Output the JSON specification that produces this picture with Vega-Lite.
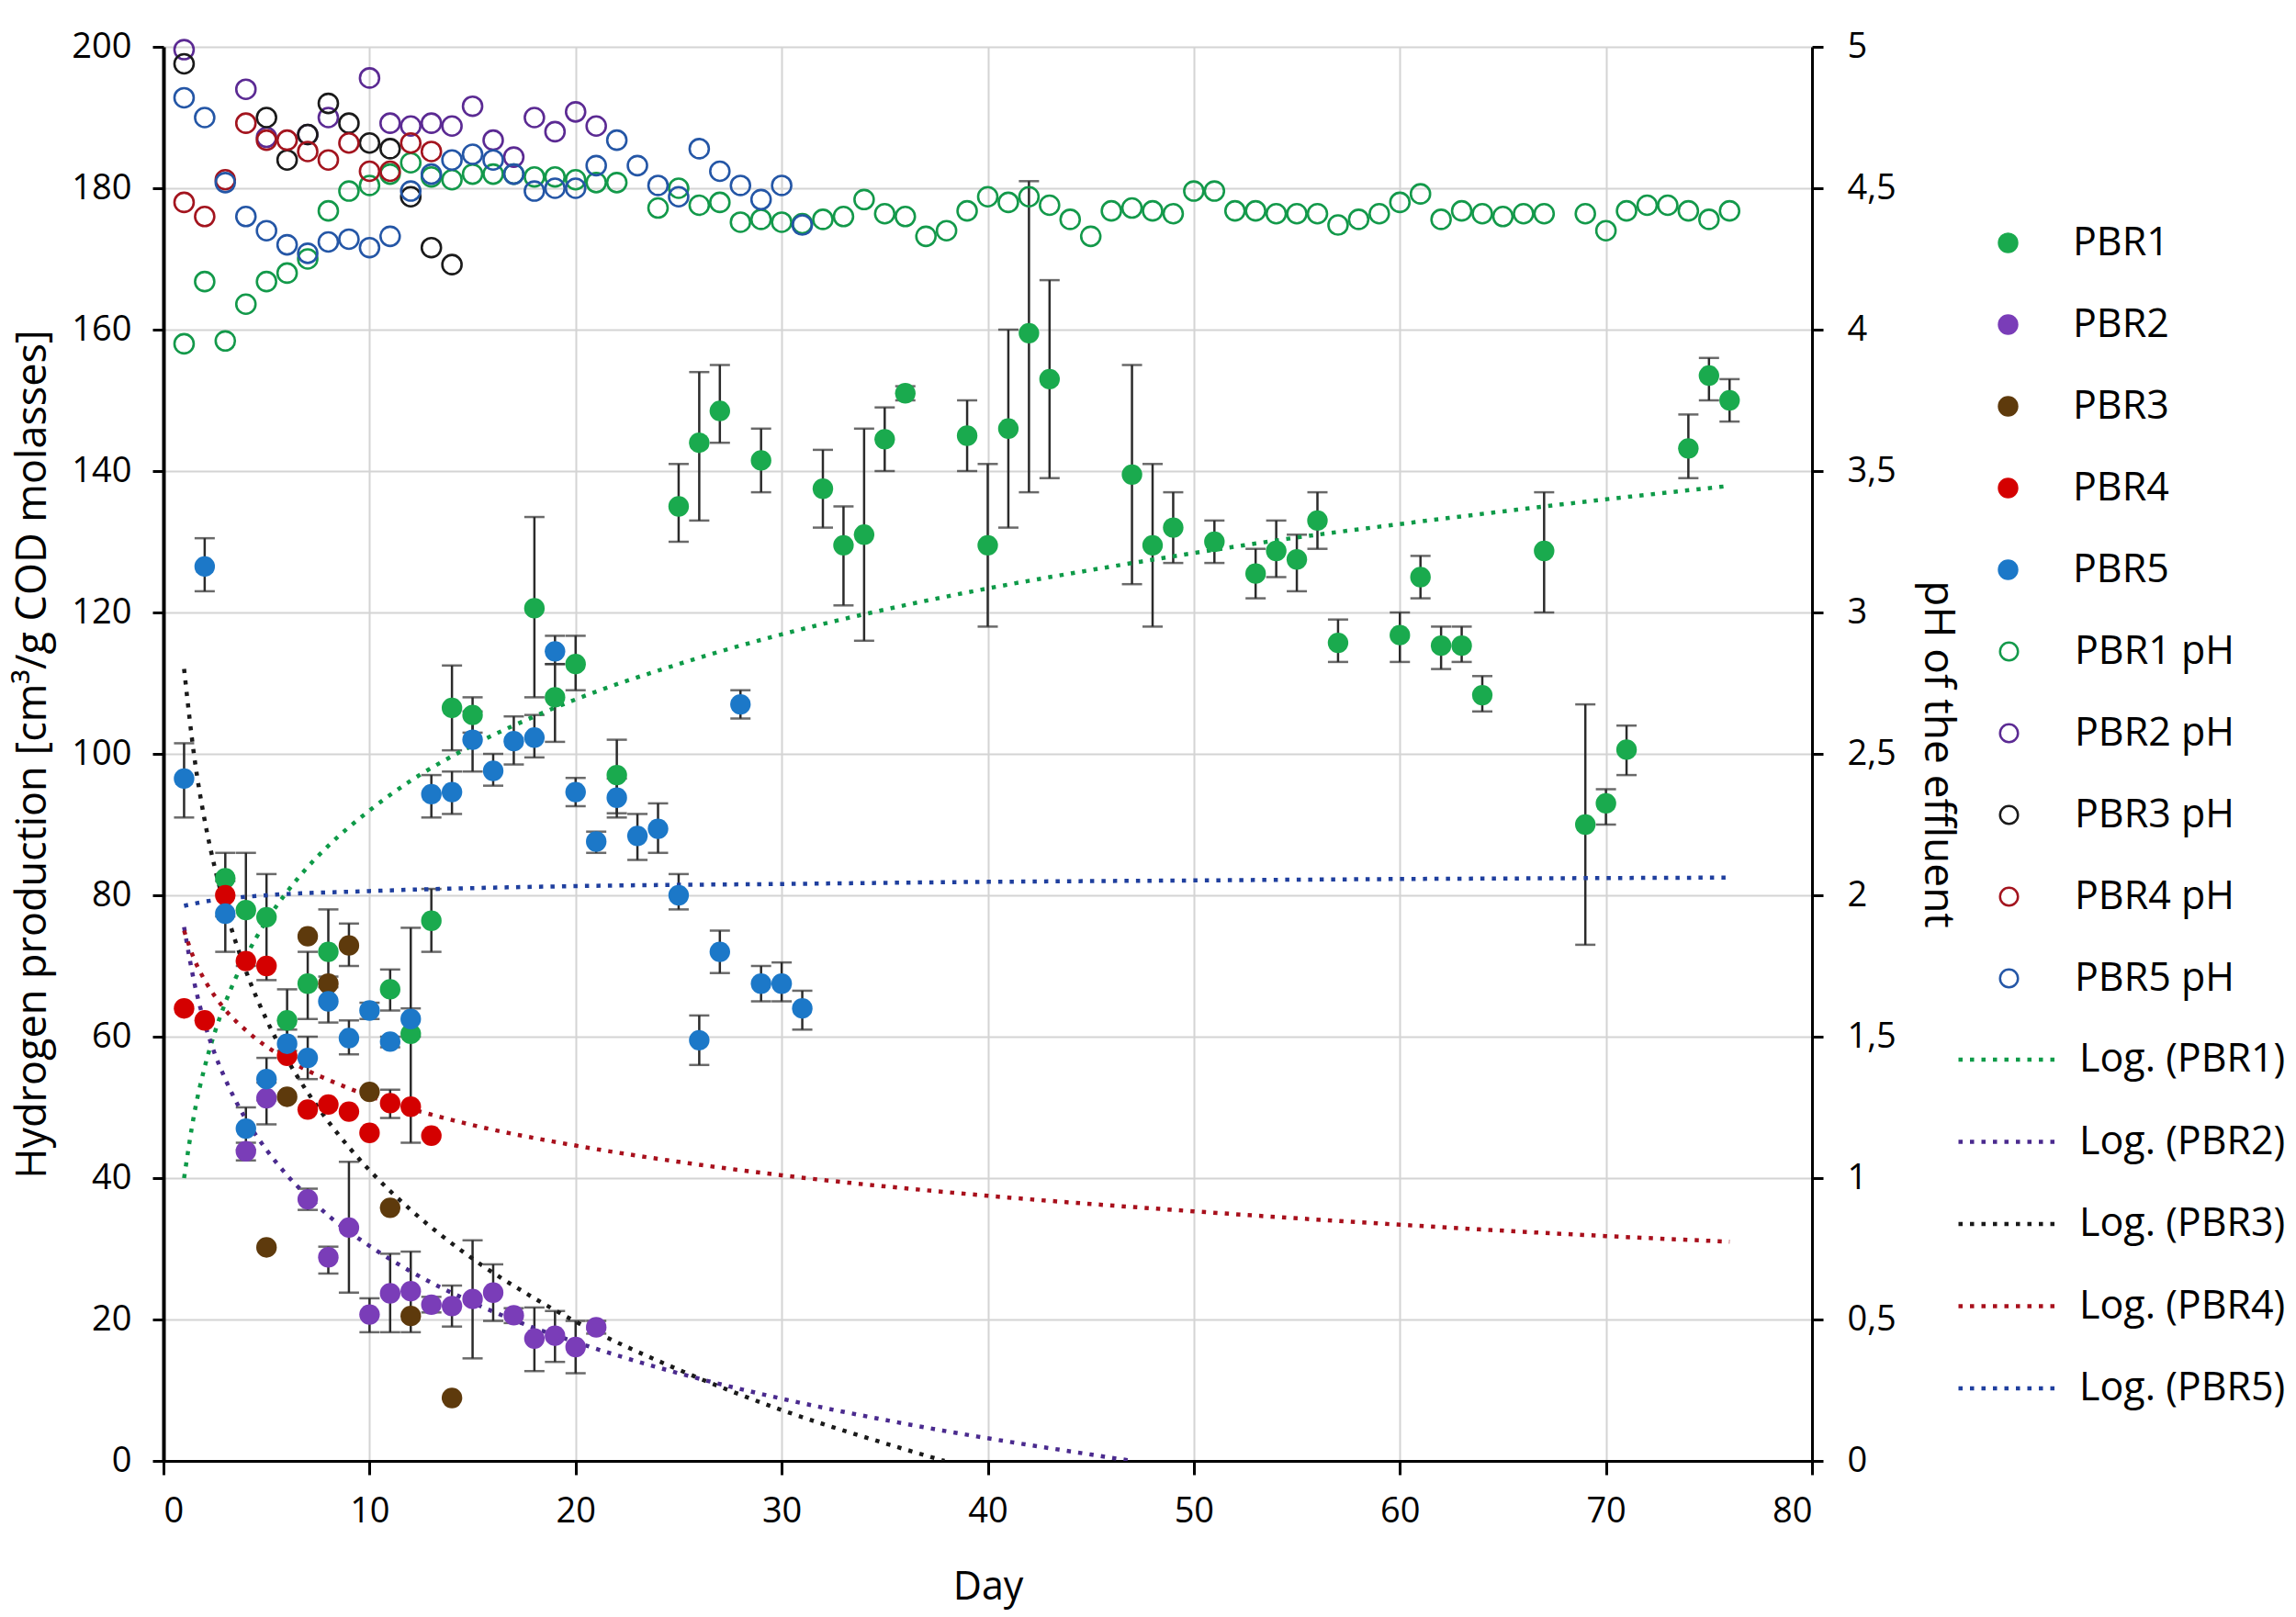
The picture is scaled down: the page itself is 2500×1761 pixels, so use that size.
{
  "$schema": "https://vega.github.io/schema/vega-lite/v6.json",
  "width": 1795,
  "height": 1540,
  "autosize": {"type": "none"},
  "padding": {"left": 178, "top": 51, "right": 527, "bottom": 170},
  "background": "white",
  "config": {
    "font": "Open Sans",
    "view": {"stroke": null},
    "axis": {"labelFont": "Open Sans", "titleFont": "Open Sans", "labelColor": "#000", "titleColor": "#000", "labelFontSize": 38, "titleFontSize": 46, "titleFontWeight": "normal", "domainColor": "#000", "domainWidth": 3, "tickColor": "#000", "tickWidth": 3, "tickSize": 13, "gridColor": "#d4d4d4", "gridWidth": 2},
    "legend": {"labelFont": "Open Sans", "labelFontSize": 43, "labelColor": "#000", "padding": 0, "labelLimit": 500}
  },
  "datasets": {
    "h2": [
      {"s":"PBR1","d":3,"v":82.4,"lo":77,"hi":86},
      {"s":"PBR1","d":4,"v":77.9,"lo":70,"hi":86},
      {"s":"PBR1","d":5,"v":76.9,"lo":68,"hi":83},
      {"s":"PBR1","d":6,"v":62.3,"lo":58,"hi":66.7},
      {"s":"PBR1","d":7,"v":67.5,"lo":62.5,"hi":72},
      {"s":"PBR1","d":8,"v":72,"lo":67,"hi":78},
      {"s":"PBR1","d":11,"v":66.7,"lo":63.7,"hi":69.5},
      {"s":"PBR1","d":12,"v":60.4,"lo":45,"hi":75.4},
      {"s":"PBR1","d":13,"v":76.4,"lo":72,"hi":80.9},
      {"s":"PBR1","d":14,"v":106.5,"lo":100.5,"hi":112.5},
      {"s":"PBR1","d":15,"v":105.5,"lo":103,"hi":108},
      {"s":"PBR1","d":18,"v":120.6,"lo":108,"hi":133.5},
      {"s":"PBR1","d":19,"v":108,"lo":101.7,"hi":112.7},
      {"s":"PBR1","d":20,"v":112.7,"lo":109,"hi":116.7},
      {"s":"PBR1","d":22,"v":97,"lo":91.6,"hi":102},
      {"s":"PBR1","d":25,"v":135,"lo":130,"hi":141},
      {"s":"PBR1","d":26,"v":144,"lo":133,"hi":154},
      {"s":"PBR1","d":27,"v":148.5,"lo":144,"hi":155},
      {"s":"PBR1","d":29,"v":141.5,"lo":137,"hi":146},
      {"s":"PBR1","d":32,"v":137.5,"lo":132,"hi":143},
      {"s":"PBR1","d":33,"v":129.5,"lo":121,"hi":135},
      {"s":"PBR1","d":34,"v":131,"lo":116,"hi":146},
      {"s":"PBR1","d":35,"v":144.5,"lo":140,"hi":149},
      {"s":"PBR1","d":36,"v":151,"lo":150,"hi":152},
      {"s":"PBR1","d":39,"v":145,"lo":140,"hi":150},
      {"s":"PBR1","d":40,"v":129.5,"lo":118,"hi":141},
      {"s":"PBR1","d":41,"v":146,"lo":132,"hi":160},
      {"s":"PBR1","d":42,"v":159.5,"lo":137,"hi":181},
      {"s":"PBR1","d":43,"v":153,"lo":139,"hi":167},
      {"s":"PBR1","d":47,"v":139.5,"lo":124,"hi":155},
      {"s":"PBR1","d":48,"v":129.5,"lo":118,"hi":141},
      {"s":"PBR1","d":49,"v":132,"lo":127,"hi":137},
      {"s":"PBR1","d":51,"v":130,"lo":127,"hi":133},
      {"s":"PBR1","d":53,"v":125.5,"lo":122,"hi":129},
      {"s":"PBR1","d":54,"v":128.7,"lo":125,"hi":133},
      {"s":"PBR1","d":55,"v":127.5,"lo":123,"hi":131},
      {"s":"PBR1","d":56,"v":133,"lo":129,"hi":137},
      {"s":"PBR1","d":57,"v":115.7,"lo":113,"hi":119},
      {"s":"PBR1","d":60,"v":116.8,"lo":113,"hi":120},
      {"s":"PBR1","d":61,"v":125,"lo":122,"hi":128},
      {"s":"PBR1","d":62,"v":115.3,"lo":112,"hi":118},
      {"s":"PBR1","d":63,"v":115.3,"lo":113,"hi":118},
      {"s":"PBR1","d":64,"v":108.3,"lo":106,"hi":111},
      {"s":"PBR1","d":67,"v":128.7,"lo":120,"hi":137},
      {"s":"PBR1","d":69,"v":90,"lo":73,"hi":107},
      {"s":"PBR1","d":70,"v":93,"lo":90,"hi":95},
      {"s":"PBR1","d":71,"v":100.6,"lo":97,"hi":104},
      {"s":"PBR1","d":74,"v":143.2,"lo":139,"hi":148},
      {"s":"PBR1","d":75,"v":153.5,"lo":150,"hi":156},
      {"s":"PBR1","d":76,"v":150,"lo":147,"hi":153},
      {"s":"PBR2","d":4,"v":43.8,"lo":42.5,"hi":45},
      {"s":"PBR2","d":5,"v":51.3,"lo":47.6,"hi":53.5},
      {"s":"PBR2","d":7,"v":37,"lo":35.5,"hi":38.5},
      {"s":"PBR2","d":8,"v":28.8,"lo":26.5,"hi":30.3},
      {"s":"PBR2","d":9,"v":33,"lo":23.8,"hi":42.3},
      {"s":"PBR2","d":10,"v":20.7,"lo":18.2,"hi":23},
      {"s":"PBR2","d":11,"v":23.7,"lo":18.2,"hi":29.3},
      {"s":"PBR2","d":12,"v":24,"lo":18.2,"hi":29.6},
      {"s":"PBR2","d":13,"v":22.1,"lo":21,"hi":23.2},
      {"s":"PBR2","d":14,"v":21.9,"lo":19,"hi":24.8},
      {"s":"PBR2","d":15,"v":22.9,"lo":14.5,"hi":31.2},
      {"s":"PBR2","d":16,"v":23.8,"lo":19.8,"hi":27.8},
      {"s":"PBR2","d":17,"v":20.6,"lo":19.5,"hi":21.6},
      {"s":"PBR2","d":18,"v":17.3,"lo":12.7,"hi":21.7},
      {"s":"PBR2","d":19,"v":17.7,"lo":14,"hi":21.2},
      {"s":"PBR2","d":20,"v":16.1,"lo":12.4,"hi":19.8},
      {"s":"PBR2","d":21,"v":18.9,"lo":18,"hi":19.8},
      {"s":"PBR3","d":5,"v":30.2},
      {"s":"PBR3","d":6,"v":51.5},
      {"s":"PBR3","d":7,"v":74.2},
      {"s":"PBR3","d":8,"v":67.5},
      {"s":"PBR3","d":9,"v":72.9,"lo":70,"hi":76},
      {"s":"PBR3","d":10,"v":52.2},
      {"s":"PBR3","d":11,"v":35.8},
      {"s":"PBR3","d":12,"v":20.5},
      {"s":"PBR3","d":14,"v":8.9},
      {"s":"PBR4","d":1,"v":64},
      {"s":"PBR4","d":2,"v":62.3},
      {"s":"PBR4","d":3,"v":80},
      {"s":"PBR4","d":4,"v":70.7},
      {"s":"PBR4","d":5,"v":70},
      {"s":"PBR4","d":6,"v":57.3},
      {"s":"PBR4","d":7,"v":49.7},
      {"s":"PBR4","d":8,"v":50.4},
      {"s":"PBR4","d":9,"v":49.4},
      {"s":"PBR4","d":10,"v":46.4},
      {"s":"PBR4","d":11,"v":50.6,"lo":48.5,"hi":52.5},
      {"s":"PBR4","d":12,"v":50.1},
      {"s":"PBR4","d":13,"v":46},
      {"s":"PBR5","d":1,"v":96.5,"lo":91,"hi":101.5},
      {"s":"PBR5","d":2,"v":126.5,"lo":123,"hi":130.5},
      {"s":"PBR5","d":3,"v":77.4,"lo":72,"hi":82},
      {"s":"PBR5","d":4,"v":47,"lo":44,"hi":50},
      {"s":"PBR5","d":5,"v":54,"lo":51,"hi":57},
      {"s":"PBR5","d":6,"v":59,"lo":57,"hi":61},
      {"s":"PBR5","d":7,"v":57,"lo":54,"hi":60},
      {"s":"PBR5","d":8,"v":65,"lo":62,"hi":68.5},
      {"s":"PBR5","d":9,"v":59.8,"lo":57.5,"hi":62.3},
      {"s":"PBR5","d":10,"v":63.7,"lo":62.5,"hi":64.8},
      {"s":"PBR5","d":11,"v":59.3,"lo":58.5,"hi":60},
      {"s":"PBR5","d":12,"v":62.5,"lo":60,"hi":64},
      {"s":"PBR5","d":13,"v":94.3,"lo":91,"hi":97},
      {"s":"PBR5","d":14,"v":94.6,"lo":91.5,"hi":97.5},
      {"s":"PBR5","d":15,"v":102,"lo":97.5,"hi":106},
      {"s":"PBR5","d":16,"v":97.6,"lo":95.5,"hi":100},
      {"s":"PBR5","d":17,"v":101.8,"lo":98.5,"hi":105.3},
      {"s":"PBR5","d":18,"v":102.3,"lo":99.5,"hi":105.5},
      {"s":"PBR5","d":19,"v":114.5,"lo":112.7,"hi":116.7},
      {"s":"PBR5","d":20,"v":94.6,"lo":92.6,"hi":96.6},
      {"s":"PBR5","d":21,"v":87.6,"lo":86,"hi":89},
      {"s":"PBR5","d":22,"v":93.8,"lo":91,"hi":96.5},
      {"s":"PBR5","d":23,"v":88.4,"lo":85,"hi":91.5},
      {"s":"PBR5","d":24,"v":89.4,"lo":86,"hi":93},
      {"s":"PBR5","d":25,"v":80,"lo":78,"hi":83},
      {"s":"PBR5","d":26,"v":59.5,"lo":56,"hi":63},
      {"s":"PBR5","d":27,"v":72,"lo":69,"hi":75},
      {"s":"PBR5","d":28,"v":107,"lo":105,"hi":109},
      {"s":"PBR5","d":29,"v":67.5,"lo":65,"hi":70},
      {"s":"PBR5","d":30,"v":67.5,"lo":65,"hi":70.5},
      {"s":"PBR5","d":31,"v":64,"lo":61,"hi":66.5}
    ],
    "ph": [
      {"s":"PBR1 pH","d":1,"ph":3.95},{"s":"PBR1 pH","d":2,"ph":4.17},{"s":"PBR1 pH","d":3,"ph":3.96},{"s":"PBR1 pH","d":4,"ph":4.09},
      {"s":"PBR1 pH","d":5,"ph":4.17},{"s":"PBR1 pH","d":6,"ph":4.2},{"s":"PBR1 pH","d":7,"ph":4.25},{"s":"PBR1 pH","d":8,"ph":4.42},
      {"s":"PBR1 pH","d":9,"ph":4.49},{"s":"PBR1 pH","d":10,"ph":4.51},{"s":"PBR1 pH","d":11,"ph":4.55},{"s":"PBR1 pH","d":12,"ph":4.59},
      {"s":"PBR1 pH","d":13,"ph":4.54},{"s":"PBR1 pH","d":14,"ph":4.53},{"s":"PBR1 pH","d":15,"ph":4.55},{"s":"PBR1 pH","d":16,"ph":4.55},
      {"s":"PBR1 pH","d":17,"ph":4.55},{"s":"PBR1 pH","d":18,"ph":4.54},{"s":"PBR1 pH","d":19,"ph":4.54},{"s":"PBR1 pH","d":20,"ph":4.53},
      {"s":"PBR1 pH","d":21,"ph":4.52},{"s":"PBR1 pH","d":22,"ph":4.52},{"s":"PBR1 pH","d":24,"ph":4.43},{"s":"PBR1 pH","d":25,"ph":4.5},
      {"s":"PBR1 pH","d":26,"ph":4.44},{"s":"PBR1 pH","d":27,"ph":4.45},{"s":"PBR1 pH","d":28,"ph":4.38},{"s":"PBR1 pH","d":29,"ph":4.39},
      {"s":"PBR1 pH","d":30,"ph":4.38},{"s":"PBR1 pH","d":31,"ph":4.375},{"s":"PBR1 pH","d":32,"ph":4.39},{"s":"PBR1 pH","d":33,"ph":4.4},
      {"s":"PBR1 pH","d":34,"ph":4.46},{"s":"PBR1 pH","d":35,"ph":4.41},{"s":"PBR1 pH","d":36,"ph":4.4},{"s":"PBR1 pH","d":37,"ph":4.33},
      {"s":"PBR1 pH","d":38,"ph":4.35},{"s":"PBR1 pH","d":39,"ph":4.42},{"s":"PBR1 pH","d":40,"ph":4.47},{"s":"PBR1 pH","d":41,"ph":4.45},
      {"s":"PBR1 pH","d":42,"ph":4.47},{"s":"PBR1 pH","d":43,"ph":4.44},{"s":"PBR1 pH","d":44,"ph":4.39},{"s":"PBR1 pH","d":45,"ph":4.33},
      {"s":"PBR1 pH","d":46,"ph":4.42},{"s":"PBR1 pH","d":47,"ph":4.43},{"s":"PBR1 pH","d":48,"ph":4.42},{"s":"PBR1 pH","d":49,"ph":4.41},
      {"s":"PBR1 pH","d":50,"ph":4.49},{"s":"PBR1 pH","d":51,"ph":4.49},{"s":"PBR1 pH","d":52,"ph":4.42},{"s":"PBR1 pH","d":53,"ph":4.42},
      {"s":"PBR1 pH","d":54,"ph":4.41},{"s":"PBR1 pH","d":55,"ph":4.41},{"s":"PBR1 pH","d":56,"ph":4.41},{"s":"PBR1 pH","d":57,"ph":4.37},
      {"s":"PBR1 pH","d":58,"ph":4.39},{"s":"PBR1 pH","d":59,"ph":4.41},{"s":"PBR1 pH","d":60,"ph":4.45},{"s":"PBR1 pH","d":61,"ph":4.48},
      {"s":"PBR1 pH","d":62,"ph":4.39},{"s":"PBR1 pH","d":63,"ph":4.42},{"s":"PBR1 pH","d":64,"ph":4.41},{"s":"PBR1 pH","d":65,"ph":4.4},
      {"s":"PBR1 pH","d":66,"ph":4.41},{"s":"PBR1 pH","d":67,"ph":4.41},{"s":"PBR1 pH","d":69,"ph":4.41},{"s":"PBR1 pH","d":70,"ph":4.35},
      {"s":"PBR1 pH","d":71,"ph":4.42},{"s":"PBR1 pH","d":72,"ph":4.44},{"s":"PBR1 pH","d":73,"ph":4.44},{"s":"PBR1 pH","d":74,"ph":4.42},
      {"s":"PBR1 pH","d":75,"ph":4.39},{"s":"PBR1 pH","d":76,"ph":4.42},
      {"s":"PBR2 pH","d":1,"ph":4.99},{"s":"PBR2 pH","d":4,"ph":4.85},{"s":"PBR2 pH","d":5,"ph":4.68},{"s":"PBR2 pH","d":7,"ph":4.69},
      {"s":"PBR2 pH","d":8,"ph":4.75},{"s":"PBR2 pH","d":10,"ph":4.89},{"s":"PBR2 pH","d":11,"ph":4.73},{"s":"PBR2 pH","d":12,"ph":4.72},
      {"s":"PBR2 pH","d":13,"ph":4.73},{"s":"PBR2 pH","d":14,"ph":4.72},{"s":"PBR2 pH","d":15,"ph":4.79},{"s":"PBR2 pH","d":16,"ph":4.67},
      {"s":"PBR2 pH","d":17,"ph":4.61},{"s":"PBR2 pH","d":18,"ph":4.75},{"s":"PBR2 pH","d":19,"ph":4.7},{"s":"PBR2 pH","d":20,"ph":4.77},
      {"s":"PBR2 pH","d":21,"ph":4.72},
      {"s":"PBR3 pH","d":1,"ph":4.94},{"s":"PBR3 pH","d":5,"ph":4.75},{"s":"PBR3 pH","d":6,"ph":4.6},{"s":"PBR3 pH","d":7,"ph":4.69},
      {"s":"PBR3 pH","d":8,"ph":4.8},{"s":"PBR3 pH","d":9,"ph":4.73},{"s":"PBR3 pH","d":10,"ph":4.66},{"s":"PBR3 pH","d":11,"ph":4.64},
      {"s":"PBR3 pH","d":12,"ph":4.47},{"s":"PBR3 pH","d":13,"ph":4.29},{"s":"PBR3 pH","d":14,"ph":4.23},
      {"s":"PBR4 pH","d":1,"ph":4.45},{"s":"PBR4 pH","d":2,"ph":4.4},{"s":"PBR4 pH","d":3,"ph":4.53},{"s":"PBR4 pH","d":4,"ph":4.73},
      {"s":"PBR4 pH","d":5,"ph":4.67},{"s":"PBR4 pH","d":6,"ph":4.67},{"s":"PBR4 pH","d":7,"ph":4.63},{"s":"PBR4 pH","d":8,"ph":4.6},
      {"s":"PBR4 pH","d":9,"ph":4.66},{"s":"PBR4 pH","d":10,"ph":4.56},{"s":"PBR4 pH","d":11,"ph":4.56},{"s":"PBR4 pH","d":12,"ph":4.66},
      {"s":"PBR4 pH","d":13,"ph":4.63},
      {"s":"PBR5 pH","d":1,"ph":4.82},{"s":"PBR5 pH","d":2,"ph":4.75},{"s":"PBR5 pH","d":3,"ph":4.52},{"s":"PBR5 pH","d":4,"ph":4.4},
      {"s":"PBR5 pH","d":5,"ph":4.35},{"s":"PBR5 pH","d":6,"ph":4.3},{"s":"PBR5 pH","d":7,"ph":4.27},{"s":"PBR5 pH","d":8,"ph":4.31},
      {"s":"PBR5 pH","d":9,"ph":4.32},{"s":"PBR5 pH","d":10,"ph":4.29},{"s":"PBR5 pH","d":11,"ph":4.33},{"s":"PBR5 pH","d":12,"ph":4.49},
      {"s":"PBR5 pH","d":13,"ph":4.55},{"s":"PBR5 pH","d":14,"ph":4.6},{"s":"PBR5 pH","d":15,"ph":4.62},{"s":"PBR5 pH","d":16,"ph":4.6},
      {"s":"PBR5 pH","d":17,"ph":4.55},{"s":"PBR5 pH","d":18,"ph":4.49},{"s":"PBR5 pH","d":19,"ph":4.5},{"s":"PBR5 pH","d":20,"ph":4.5},
      {"s":"PBR5 pH","d":21,"ph":4.58},{"s":"PBR5 pH","d":22,"ph":4.67},{"s":"PBR5 pH","d":23,"ph":4.58},{"s":"PBR5 pH","d":24,"ph":4.51},
      {"s":"PBR5 pH","d":25,"ph":4.47},{"s":"PBR5 pH","d":26,"ph":4.64},{"s":"PBR5 pH","d":27,"ph":4.56},{"s":"PBR5 pH","d":28,"ph":4.51},
      {"s":"PBR5 pH","d":29,"ph":4.46},{"s":"PBR5 pH","d":30,"ph":4.51},{"s":"PBR5 pH","d":31,"ph":4.37}
    ],
    "trend": [
      {"s":"Log. (PBR1)","d":1,"v":40},{"s":"Log. (PBR1)","d":1.5,"v":49.2},{"s":"Log. (PBR1)","d":2,"v":55.7},{"s":"Log. (PBR1)","d":2.5,"v":60.7},
      {"s":"Log. (PBR1)","d":3,"v":64.8},{"s":"Log. (PBR1)","d":4,"v":71.3},{"s":"Log. (PBR1)","d":5,"v":76.4},{"s":"Log. (PBR1)","d":6,"v":80.5},
      {"s":"Log. (PBR1)","d":7,"v":84},{"s":"Log. (PBR1)","d":8,"v":87},{"s":"Log. (PBR1)","d":10,"v":92},{"s":"Log. (PBR1)","d":12,"v":96.2},
      {"s":"Log. (PBR1)","d":15,"v":101.2},{"s":"Log. (PBR1)","d":18,"v":105.3},{"s":"Log. (PBR1)","d":20,"v":107.7},{"s":"Log. (PBR1)","d":25,"v":112.7},
      {"s":"Log. (PBR1)","d":30,"v":116.9},{"s":"Log. (PBR1)","d":35,"v":120.4},{"s":"Log. (PBR1)","d":40,"v":123.4},{"s":"Log. (PBR1)","d":45,"v":126},
      {"s":"Log. (PBR1)","d":50,"v":128.4},{"s":"Log. (PBR1)","d":55,"v":130.6},{"s":"Log. (PBR1)","d":60,"v":132.5},{"s":"Log. (PBR1)","d":65,"v":134.3},
      {"s":"Log. (PBR1)","d":70,"v":136},{"s":"Log. (PBR1)","d":76,"v":137.9},
      {"s":"Log. (PBR2)","d":1,"v":75.5},{"s":"Log. (PBR2)","d":1.5,"v":67.6},{"s":"Log. (PBR2)","d":2,"v":61.9},{"s":"Log. (PBR2)","d":2.5,"v":57.5},
      {"s":"Log. (PBR2)","d":3,"v":54},{"s":"Log. (PBR2)","d":4,"v":48.3},{"s":"Log. (PBR2)","d":5,"v":44},{"s":"Log. (PBR2)","d":6,"v":40.4},
      {"s":"Log. (PBR2)","d":7,"v":37.4},{"s":"Log. (PBR2)","d":8,"v":34.7},{"s":"Log. (PBR2)","d":10,"v":30.4},{"s":"Log. (PBR2)","d":12,"v":26.8},
      {"s":"Log. (PBR2)","d":15,"v":22.4},{"s":"Log. (PBR2)","d":18,"v":18.8},{"s":"Log. (PBR2)","d":20,"v":16.8},{"s":"Log. (PBR2)","d":25,"v":12.4},
      {"s":"Log. (PBR2)","d":30,"v":8.8},{"s":"Log. (PBR2)","d":35,"v":5.8},{"s":"Log. (PBR2)","d":40,"v":3.2},{"s":"Log. (PBR2)","d":45,"v":0.9},
      {"s":"Log. (PBR2)","d":47,"v":0},
      {"s":"Log. (PBR3)","d":1,"v":112},{"s":"Log. (PBR3)","d":1.5,"v":99.5},{"s":"Log. (PBR3)","d":2,"v":90.6},{"s":"Log. (PBR3)","d":2.5,"v":83.8},
      {"s":"Log. (PBR3)","d":3,"v":78.2},{"s":"Log. (PBR3)","d":4,"v":69.3},{"s":"Log. (PBR3)","d":5,"v":62.4},{"s":"Log. (PBR3)","d":6,"v":56.8},
      {"s":"Log. (PBR3)","d":7,"v":52.1},{"s":"Log. (PBR3)","d":8,"v":48},{"s":"Log. (PBR3)","d":10,"v":41.1},{"s":"Log. (PBR3)","d":12,"v":35.5},
      {"s":"Log. (PBR3)","d":15,"v":28.6},{"s":"Log. (PBR3)","d":18,"v":23},{"s":"Log. (PBR3)","d":20,"v":19.7},{"s":"Log. (PBR3)","d":25,"v":12.9},
      {"s":"Log. (PBR3)","d":30,"v":7.2},{"s":"Log. (PBR3)","d":35,"v":2.5},{"s":"Log. (PBR3)","d":37.9,"v":0},
      {"s":"Log. (PBR4)","d":1,"v":75},{"s":"Log. (PBR4)","d":1.5,"v":70.9},{"s":"Log. (PBR4)","d":2,"v":68},{"s":"Log. (PBR4)","d":2.5,"v":65.7},
      {"s":"Log. (PBR4)","d":3,"v":63.8},{"s":"Log. (PBR4)","d":4,"v":60.9},{"s":"Log. (PBR4)","d":5,"v":58.6},{"s":"Log. (PBR4)","d":6,"v":56.8},
      {"s":"Log. (PBR4)","d":7,"v":55.2},{"s":"Log. (PBR4)","d":8,"v":53.9},{"s":"Log. (PBR4)","d":10,"v":51.6},{"s":"Log. (PBR4)","d":12,"v":49.8},
      {"s":"Log. (PBR4)","d":15,"v":47.5},{"s":"Log. (PBR4)","d":20,"v":44.6},{"s":"Log. (PBR4)","d":25,"v":42.3},{"s":"Log. (PBR4)","d":30,"v":40.4},
      {"s":"Log. (PBR4)","d":40,"v":37.5},{"s":"Log. (PBR4)","d":50,"v":35.3},{"s":"Log. (PBR4)","d":60,"v":33.4},{"s":"Log. (PBR4)","d":70,"v":31.8},
      {"s":"Log. (PBR4)","d":76,"v":31},
      {"s":"Log. (PBR5)","d":1,"v":78.5},{"s":"Log. (PBR5)","d":2,"v":79.1},{"s":"Log. (PBR5)","d":3,"v":79.5},{"s":"Log. (PBR5)","d":5,"v":80},
      {"s":"Log. (PBR5)","d":10,"v":80.6},{"s":"Log. (PBR5)","d":20,"v":81.3},{"s":"Log. (PBR5)","d":30,"v":81.6},{"s":"Log. (PBR5)","d":40,"v":81.9},
      {"s":"Log. (PBR5)","d":50,"v":82.1},{"s":"Log. (PBR5)","d":60,"v":82.3},{"s":"Log. (PBR5)","d":76,"v":82.5}
    ]
  },
  "layer": [
    {
      "data": {"name": "h2"},
      "transform": [{"filter": "isValid(datum.lo)"}],
      "mark": {"type": "errorbar", "ticks": true, "size": 22, "thickness": 2.5, "color": "#2b2b2b"},
      "encoding": {
        "x": {"field": "d", "type": "quantitative", "scale": {"domain": [0, 80], "nice": false}, "axis": {"values": [0,10,20,30,40,50,60,70,80], "title": "Day", "grid": true, "labelPadding": 21, "tickSize": 15, "titleFontSize": 43, "titleX": 897.5, "titleY": 137, "titleBaseline": "middle"}},
        "y": {"field": "lo", "type": "quantitative", "scale": {"domain": [0, 200], "nice": false}, "axis": null},
        "y2": {"field": "hi"}
      }
    },
    {
      "data": {"name": "trend"},
      "mark": {"type": "line", "strokeWidth": 4.5, "strokeDash": [4.5, 8], "interpolate": "monotone", "clip": true},
      "encoding": {
        "x": {"field": "d", "type": "quantitative", "scale": {"domain": [0, 80], "nice": false}, "axis": {"values": [0,10,20,30,40,50,60,70,80], "title": "Day", "grid": true, "labelPadding": 21, "tickSize": 15, "titleFontSize": 43, "titleX": 897.5, "titleY": 137, "titleBaseline": "middle"}},
        "y": {"field": "v", "type": "quantitative", "scale": {"domain": [0, 200], "nice": false}, "axis": null},
        "color": {"field": "s", "type": "nominal",
          "scale": {"domain": ["Log. (PBR1)","Log. (PBR2)","Log. (PBR3)","Log. (PBR4)","Log. (PBR5)"], "range": ["#0e9a48","#4a2a8e","#1a1a1a","#a8101c","#1f3f9e"]},
          "legend": {"title": null, "orient": "none", "legendX": 1952, "legendY": 1048, "symbolType": "stroke", "symbolSize": 11025, "symbolStrokeWidth": 4.5, "symbolDash": [4.5, 8], "labelOffset": 24, "rowPadding": 12.5}}
      }
    },
    {
      "data": {"name": "h2"},
      "mark": {"type": "point", "filled": true, "size": 500, "opacity": 1},
      "encoding": {
        "x": {"field": "d", "type": "quantitative", "scale": {"domain": [0, 80], "nice": false}, "axis": {"values": [0,10,20,30,40,50,60,70,80], "title": "Day", "grid": true, "labelPadding": 21, "tickSize": 15, "titleFontSize": 43, "titleX": 897.5, "titleY": 137, "titleBaseline": "middle"}},
        "y": {"field": "v", "type": "quantitative", "scale": {"domain": [0, 200], "nice": false},
          "axis": {"orient": "left", "values": [0,20,40,60,80,100,120,140,160,180,200], "title": "Hydrogen production  [cm³/g COD molasses]", "grid": true, "labelPadding": 23, "tickSize": 12, "domainWidth": 4, "titleFontSize": 45, "titleX": -143, "titleY": 770, "titleAngle": -90, "titleBaseline": "middle"}},
        "color": {"field": "s", "type": "nominal",
          "scale": {"domain": ["PBR1","PBR2","PBR3","PBR4","PBR5"], "range": ["#1aaa4e","#7a3db8","#5e3a0c","#d40000","#1c78c8"]},
          "legend": {"title": null, "orient": "none", "legendX": 1987, "legendY": 192, "symbolType": "circle", "symbolSize": 500, "labelOffset": 49, "rowPadding": 45}}
      }
    },
    {
      "data": {"name": "ph"},
      "mark": {"type": "point", "filled": false, "size": 440, "strokeWidth": 2.6, "opacity": 1},
      "encoding": {
        "x": {"field": "d", "type": "quantitative", "scale": {"domain": [0, 80], "nice": false}, "axis": {"values": [0,10,20,30,40,50,60,70,80], "title": "Day", "grid": true, "labelPadding": 21, "tickSize": 15, "titleFontSize": 43, "titleX": 897.5, "titleY": 137, "titleBaseline": "middle"}},
        "y": {"field": "ph", "type": "quantitative", "scale": {"domain": [0, 5], "nice": false},
          "axis": {"orient": "right", "values": [0,0.5,1,1.5,2,2.5,3,3.5,4,4.5,5], "labelExpr": "replace(toString(datum.value), '.', ',')", "title": "pH of the effluent", "grid": false, "labelPadding": 26, "tickSize": 12, "titleX": 136, "titleY": 770, "titleAngle": 90, "titleBaseline": "middle"}},
        "color": {"field": "s", "type": "nominal",
          "scale": {"domain": ["PBR1 pH","PBR2 pH","PBR3 pH","PBR4 pH","PBR5 pH"], "range": ["#13994a","#5b2a93","#1a1a1a","#a3141e","#2456a6"]},
          "legend": {"title": null, "orient": "none", "legendX": 1988, "legendY": 637, "symbolType": "circle", "symbolSize": 380, "symbolStrokeWidth": 2.5, "labelOffset": 50, "rowPadding": 45}}
      }
    }
  ],
  "resolve": {"scale": {"y": "independent", "color": "independent"}}
}
